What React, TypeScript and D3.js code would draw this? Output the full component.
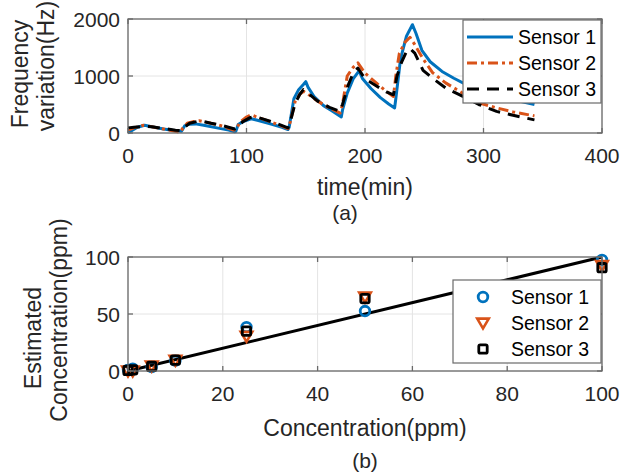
import React from "react";
import * as d3 from "d3";

// ---------- DATA ----------
const seriesNames = ["Sensor 1", "Sensor 2", "Sensor 3"];
const seriesColors = ["#0072BD", "#D95319", "#000000"];

const timeTicks = [0, 100, 200, 300, 400];
const freqTicks = [0, 1000, 2000];

const sensor1Freq: [number, number][] = [
  [0, 0], [3, 40], [8, 100], [14, 135], [20, 110], [30, 70], [40, 40], [45, 30],
  [46, 60], [48, 130], [52, 155], [57, 160], [65, 130], [75, 90], [85, 50], [90, 20],
  [91, 30], [93, 150], [97, 200], [104, 250], [110, 220], [120, 160], [130, 100], [135, 60],
  [136, 100], [140, 600], [144, 760], [148, 850], [150, 900], [152, 800], [157, 640], [165, 480],
  [172, 390], [180, 280], [181, 400], [185, 700], [190, 950], [195, 1090], [198, 950], [205, 780],
  [213, 620], [220, 510], [225, 440], [226, 600], [230, 1300], [235, 1700], [240, 1900], [243, 1750],
  [248, 1450], [255, 1250], [265, 1080], [275, 960], [290, 800], [310, 660], [330, 560], [343, 500],
];
const sensor2Freq: [number, number][] = [
  [0, 50], [5, 90], [13, 135], [20, 110], [30, 70], [40, 30], [44, 10], [46, 80],
  [50, 170], [55, 200], [60, 215], [70, 170], [80, 120], [89, 50], [91, 60], [95, 200],
  [100, 280], [104, 320], [110, 270], [120, 200], [130, 120], [135, 75], [137, 200], [141, 550],
  [145, 680], [148, 730], [152, 680], [160, 560], [170, 440], [179, 350], [181, 500], [185, 1000],
  [190, 1150], [194, 1230], [200, 1050], [210, 870], [218, 730], [224, 640], [226, 1000], [229, 1400],
  [234, 1600], [238, 1680], [242, 1550], [249, 1300], [257, 1060], [268, 880], [280, 730], [296, 530],
  [311, 440], [325, 370], [343, 300],
];
const sensor3Freq: [number, number][] = [
  [0, 90], [5, 100], [14, 120], [20, 110], [30, 80], [40, 50], [45, 40], [47, 90],
  [52, 170], [58, 200], [63, 205], [70, 170], [80, 130], [90, 70], [92, 100], [97, 200],
  [103, 270], [107, 290], [115, 240], [125, 170], [135, 90], [137, 200], [141, 520], [145, 680],
  [148, 760], [153, 680], [160, 560], [170, 450], [179, 380], [181, 500], [186, 850], [190, 1050],
  [194, 1140], [200, 950], [210, 820], [218, 720], [224, 670], [227, 1000], [231, 1250], [235, 1430],
  [238, 1480], [242, 1400], [249, 1100], [257, 960], [268, 790], [280, 670], [296, 500], [311, 380],
  [325, 310], [343, 230],
];

const concTicks = [0, 20, 40, 60, 80, 100];
const estTicks = [0, 50, 100];
const concentrations = [0, 1, 5, 10, 25, 50, 100];
const sensor1Est = [1, 2, 3.5, 9, 38.5, 52.6, 97.4];
const sensor2Est = [0, 0, 4.5, 9.5, 30.5, 65, 92.7];
const sensor3Est = [0.5, 1, 4, 9.5, 35, 63.5, 90.6];
const fitLine: [number, number][] = [[0, 0], [100, 100]];

// ---------- STYLE ----------
const FONT = "'Liberation Sans', Arial, Helvetica, sans-serif";
const TXT = "#262626";
const AXIS = "#6a6a6a";
const GRID = "#e4e4e4";
const TICK_FS = 21;
const LABEL_FS = 23;
const LEGEND_FS = 19.5;

const L = 128, R = 602;
const T1 = 19, B1 = 133;
const T2 = 257, B2 = 371;

function Frame({ x, y, xTicks, yTicks }: any) {
  const [x0, x1] = x.range();
  const [y0, y1] = y.range();
  return (
    <g>
      {xTicks.map((t: number) => (
        <line key={"gx" + t} x1={x(t)} x2={x(t)} y1={y0} y2={y1} stroke={GRID} strokeWidth={1} />
      ))}
      {yTicks.map((t: number) => (
        <line key={"gy" + t} x1={x0} x2={x1} y1={y(t)} y2={y(t)} stroke={GRID} strokeWidth={1} />
      ))}
    </g>
  );
}

function Axes({ x, y, xTicks, yTicks }: any) {
  const [x0, x1] = x.range();
  const [y0, y1] = y.range();
  const tl = 5;
  return (
    <g>
      <rect x={x0} y={y1} width={x1 - x0} height={y0 - y1} fill="none" stroke={AXIS} strokeWidth={1.3} />
      {xTicks.map((t: number) => (
        <g key={"tx" + t}>
          <line x1={x(t)} x2={x(t)} y1={y0} y2={y0 - tl} stroke={AXIS} strokeWidth={1.3} />
          <line x1={x(t)} x2={x(t)} y1={y1} y2={y1 + tl} stroke={AXIS} strokeWidth={1.3} />
          <text x={x(t)} y={y0 + 30} textAnchor="middle" fontSize={TICK_FS} fill={TXT} fontFamily={FONT}>{t}</text>
        </g>
      ))}
      {yTicks.map((t: number) => (
        <g key={"ty" + t}>
          <line x1={x0} x2={x0 + tl} y1={y(t)} y2={y(t)} stroke={AXIS} strokeWidth={1.3} />
          <line x1={x1} x2={x1 - tl} y1={y(t)} y2={y(t)} stroke={AXIS} strokeWidth={1.3} />
          <text x={x0 - 8} y={y(t) + 7.5} textAnchor="end" fontSize={TICK_FS} fill={TXT} fontFamily={FONT}>{t}</text>
        </g>
      ))}
    </g>
  );
}

function Marker({ kind, cx, cy, color }: any) {
  if (kind === 0) return <circle cx={cx} cy={cy} r={4.8} fill="none" stroke={color} strokeWidth={2.8} />;
  if (kind === 1) {
    const s = 5.8;
    const pts = `${cx - s},${cy - s * 0.75} ${cx + s},${cy - s * 0.75} ${cx},${cy + s * 0.95}`;
    return <polygon points={pts} fill="none" stroke={color} strokeWidth={2.6} strokeLinejoin="miter" />;
  }
  const h = 4.2;
  return <rect x={cx - h} y={cy - h} width={2 * h} height={2 * h} rx={1.5} fill="none" stroke={color} strokeWidth={2.8} />;
}

export default function App() {
  const x1 = d3.scaleLinear().domain([0, 400]).range([L, R]);
  const y1 = d3.scaleLinear().domain([0, 2000]).range([B1, T1]);
  const x2 = d3.scaleLinear().domain([0, 100]).range([L, R]);
  const y2 = d3.scaleLinear().domain([0, 100]).range([B2, T2]);

  const line1 = d3.line<[number, number]>().x((d) => x1(d[0])).y((d) => y1(d[1]));
  const line2 = d3.line<[number, number]>().x((d) => x2(d[0])).y((d) => y2(d[1]));

  const freqSeries = [sensor1Freq, sensor2Freq, sensor3Freq];
  const dashes = [undefined, "10,4,3,4", "12,8"];
  const estSeries = [sensor1Est, sensor2Est, sensor3Est];

  const lg1 = { x: 463, y: 20, w: 138, h: 83 };
  const lg2 = { x: 453, y: 280, w: 148, h: 83 };

  return (
    <svg width={631} height={474} style={{ position: "absolute", left: 0, top: 0, background: "#fff" }} fontFamily={FONT}>
      <rect x={0} y={0} width={631} height={474} fill="#fff" />

      {/* ---- Top plot ---- */}
      <Frame x={x1} y={y1} xTicks={timeTicks} yTicks={freqTicks} />
      {freqSeries.map((s, i) => (
        <path key={"f" + i} d={line1(s) || ""} fill="none" stroke={seriesColors[i]} strokeWidth={3}
          strokeDasharray={dashes[i]} strokeLinejoin="round" />
      ))}
      <Axes x={x1} y={y1} xTicks={timeTicks} yTicks={freqTicks} />
      <g>
        <rect x={lg1.x} y={lg1.y} width={lg1.w} height={lg1.h} fill="#fff" stroke={AXIS} strokeWidth={1.2} />
        {seriesNames.map((n, i) => {
          const yy = 37 + i * 26;
          return (
            <g key={"l1" + i}>
              <line x1={467} x2={513} y1={yy} y2={yy} stroke={seriesColors[i]} strokeWidth={3} strokeDasharray={dashes[i]} />
              <text x={518} y={yy + 7} fontSize={LEGEND_FS} fill="#000">{n}</text>
            </g>
          );
        })}
      </g>
      <text x={(L + R) / 2} y={195} textAnchor="middle" fontSize={LABEL_FS} fill={TXT}>time(min)</text>
      <text x={345} y={220} textAnchor="middle" fontSize={TICK_FS} fill={TXT}>(a)</text>
      <text transform={`translate(28,74) rotate(-90)`} textAnchor="middle" fontSize={LABEL_FS} fill={TXT}>Frequency</text>
      <text transform={`translate(54,66) rotate(-90)`} textAnchor="middle" fontSize={LABEL_FS} fill={TXT}>variation(Hz)</text>

      {/* ---- Bottom plot ---- */}
      <Frame x={x2} y={y2} xTicks={concTicks} yTicks={estTicks} />
      <path d={line2(fitLine) || ""} fill="none" stroke="#000" strokeWidth={3} />
      {estSeries.map((s, i) => (
        <g key={"e" + i}>
          {s.map((v, j) => (
            <Marker key={j} kind={i} cx={x2(concentrations[j])} cy={y2(v)} color={seriesColors[i]} />
          ))}
        </g>
      ))}
      <Axes x={x2} y={y2} xTicks={concTicks} yTicks={estTicks} />
      <g>
        <rect x={lg2.x} y={lg2.y} width={lg2.w} height={lg2.h} fill="#fff" stroke={AXIS} strokeWidth={1.2} />
        {seriesNames.map((n, i) => {
          const yy = 297 + i * 26;
          return (
            <g key={"l2" + i}>
              <Marker kind={i} cx={483} cy={yy} color={seriesColors[i]} />
              <text x={511} y={yy + 7} fontSize={LEGEND_FS} fill="#000">{n}</text>
            </g>
          );
        })}
      </g>
      <text x={(L + R) / 2} y={436} textAnchor="middle" fontSize={LABEL_FS} fill={TXT}>Concentration(ppm)</text>
      <text x={(L + R) / 2} y={468} textAnchor="middle" fontSize={TICK_FS} fill={TXT}>(b)</text>
      <text transform={`translate(41,338) rotate(-90)`} textAnchor="middle" fontSize={LABEL_FS} fill={TXT}>Estimated</text>
      <text transform={`translate(67,320) rotate(-90)`} textAnchor="middle" fontSize={LABEL_FS} fill={TXT}>Concentration(ppm)</text>
    </svg>
  );
}
